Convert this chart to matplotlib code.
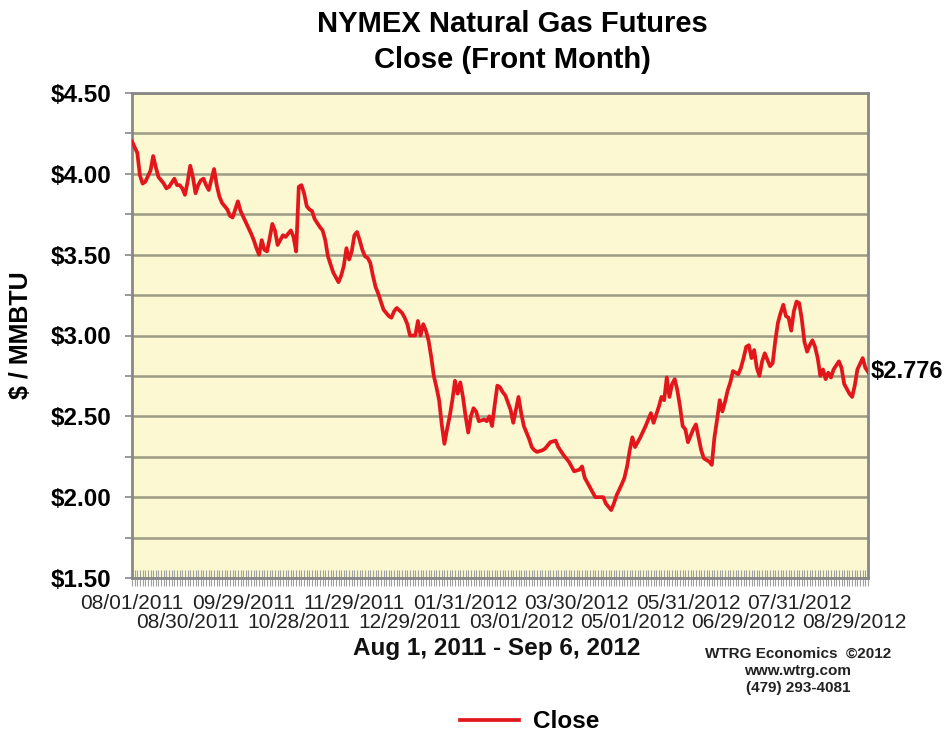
import numpy as np
import matplotlib.pyplot as plt
from matplotlib.lines import Line2D
import matplotlib.transforms as mtransforms

# trading-day number (0 = 08/01/2011) and front-month close
day = [0, 2, 3, 4, 5, 7, 8, 9, 10, 12, 13, 14, 16, 17, 18, 19, 20, 21, 22, 23,
       24, 25, 26, 27, 28, 29, 31, 32, 33, 34, 36, 37, 38, 39, 40, 41, 43, 45, 46, 47,
       48, 49, 50, 51, 52, 53, 54, 55, 57, 58, 60, 61, 62, 63, 64, 65, 66, 67, 68, 69,
       71, 72, 73, 74, 76, 77, 78, 79, 80, 81, 82, 83, 84, 85, 86, 87, 88, 89, 90, 91,
       92, 93, 95, 97, 98, 99, 100, 102, 103, 104, 105, 107, 108, 109, 110, 111, 112, 113, 114, 115,
       116, 117, 118, 119, 120, 121, 122, 123, 124, 125, 126, 127, 128, 129, 130, 131, 133, 134, 135, 136,
       137, 138, 139, 140, 141, 143, 144, 145, 146, 147, 148, 150, 151, 152, 153, 155, 156, 158, 160, 161,
       163, 165, 167, 169, 170, 171, 173, 175, 177, 178, 179, 181, 182, 183, 185, 186, 187, 188, 189, 190,
       191, 192, 194, 195, 196, 197, 199, 200, 201, 202, 203, 204, 205, 206, 207, 208, 209, 210, 212, 213,
       214, 215, 216, 218, 219, 220, 221, 222, 223, 224, 225, 226, 227, 229, 230, 231, 232, 233, 234, 235,
       236, 237, 238, 239, 240, 241, 242, 243, 244, 245, 246, 247, 248, 249, 250, 251, 252, 253, 254, 255,
       256, 257, 258, 259, 260, 261, 262, 263, 264, 265, 267, 268, 269, 271, 272, 273, 274, 276, 277, 278]
close = [4.20, 4.13, 3.99, 3.94, 3.95, 4.02, 4.11, 4.04, 3.98, 3.94, 3.91, 3.92, 3.97, 3.93, 3.93, 3.91, 3.87, 3.95, 4.05, 3.98,
         3.88, 3.93, 3.96, 3.97, 3.93, 3.90, 4.03, 3.93, 3.86, 3.82, 3.78, 3.74, 3.73, 3.78, 3.83, 3.77, 3.70, 3.63, 3.59, 3.54,
         3.50, 3.59, 3.53, 3.52, 3.60, 3.69, 3.65, 3.56, 3.62, 3.61, 3.65, 3.61, 3.52, 3.92, 3.93, 3.88, 3.80, 3.78, 3.77, 3.72,
         3.67, 3.65, 3.59, 3.49, 3.39, 3.36, 3.33, 3.37, 3.43, 3.54, 3.47, 3.52, 3.62, 3.64, 3.59, 3.53, 3.49, 3.48, 3.45, 3.37,
         3.30, 3.26, 3.16, 3.12, 3.11, 3.15, 3.17, 3.14, 3.11, 3.07, 3.00, 3.00, 3.09, 3.00, 3.07, 3.03, 2.97, 2.87, 2.75, 2.68,
         2.60, 2.45, 2.33, 2.42, 2.50, 2.60, 2.72, 2.64, 2.71, 2.62, 2.50, 2.40, 2.50, 2.55, 2.53, 2.47, 2.48, 2.47, 2.50, 2.44,
         2.57, 2.69, 2.68, 2.65, 2.63, 2.54, 2.46, 2.54, 2.62, 2.52, 2.44, 2.36, 2.31, 2.29, 2.28, 2.29, 2.30, 2.34, 2.35, 2.31,
         2.26, 2.22, 2.16, 2.17, 2.19, 2.12, 2.06, 2.00, 2.00, 2.00, 1.96, 1.92, 1.96, 2.01, 2.08, 2.12, 2.19, 2.29, 2.37, 2.31,
         2.34, 2.37, 2.44, 2.48, 2.52, 2.46, 2.56, 2.62, 2.60, 2.74, 2.62, 2.70, 2.73, 2.66, 2.56, 2.44, 2.42, 2.34, 2.42, 2.45,
         2.37, 2.29, 2.24, 2.22, 2.20, 2.37, 2.48, 2.60, 2.53, 2.59, 2.66, 2.71, 2.78, 2.76, 2.80, 2.86, 2.93, 2.94, 2.86, 2.91,
         2.80, 2.75, 2.84, 2.89, 2.85, 2.81, 2.83, 2.97, 3.08, 3.14, 3.19, 3.12, 3.11, 3.03, 3.15, 3.21, 3.20, 3.10, 2.96, 2.90,
         2.94, 2.97, 2.93, 2.86, 2.75, 2.79, 2.73, 2.77, 2.74, 2.79, 2.84, 2.80, 2.70, 2.64, 2.62, 2.69, 2.79, 2.86, 2.80, 2.776]

n_days = 279
tick_days = [0, 21, 42, 63, 84, 105, 126, 147, 168, 189, 210, 231, 252, 273]
tick_labels = ['08/01/2011', '08/30/2011', '09/29/2011', '10/28/2011', '11/29/2011',
               '12/29/2011', '01/31/2012', '03/01/2012', '03/30/2012', '05/01/2012',
               '05/31/2012', '06/29/2012', '07/31/2012', '08/29/2012']
last_close = 2.776

plt.rcParams['font.family'] = ['Liberation Sans', 'DejaVu Sans']

fig = plt.figure(figsize=(9.52, 7.37), dpi=100)
ax = fig.add_axes([132/952, 1 - 578/737, 736/952, 485/737])
ax.set_facecolor('#fbf8d2')

ax.plot(day, close, color='#e3161c', lw=2.7, solid_joinstyle='round', zorder=3)

ax.set_ylim(1.5, 4.5)
ax.set_xlim(0, n_days - 1)
yt = np.arange(1.5, 4.51, 0.25)
ax.set_yticks(yt)
ax.set_yticklabels(['$%.2f' % v if i % 2 == 0 else '' for i, v in enumerate(yt)],
                   fontsize=17.5, fontweight='bold')
ax.grid(axis='y', color='#9c9c84', lw=1.8)
ax.tick_params(axis='y', length=5, color='#888888', width=1.2, pad=10)

# date labels on two staggered rows
ax.set_xticks(tick_days)
ax.set_xticklabels([lab if i % 2 == 0 else '' for i, lab in enumerate(tick_labels)],
                   fontsize=15, color='#222222')
ax.set_xticks(range(n_days), minor=True)
ax.tick_params(axis='x', which='both', direction='inout', length=11, color='#a0a0a0', width=0.8, pad=6)
xtrans = mtransforms.blended_transform_factory(ax.transData, ax.transAxes)
for i, (d, lab) in enumerate(zip(tick_days, tick_labels)):
    if i % 2 == 1:
        ax.annotate(lab, (d, 0), xycoords=xtrans, xytext=(0, -45), textcoords='offset pixels',
                    ha='center', va='center', fontsize=15, color='#222222', annotation_clip=False)

for s in ax.spines.values():
    s.set_color('#888888')
    s.set_linewidth(2)

trans = mtransforms.blended_transform_factory(ax.transAxes, ax.transData)
ax.text(1.003, last_close, '$%.3f' % last_close, transform=trans, fontsize=17,
        fontweight='bold', va='center', ha='left')

fig.text(0.538, 1 - 42/737, 'NYMEX Natural Gas Futures\nClose (Front Month)', ha='center',
         va='center', fontsize=21, fontweight='bold', linespacing=1.4)
fig.text(0.022, 1 - 335/737, '$ / MMBTU', rotation=90, ha='center', va='center',
         fontsize=18, fontweight='bold')
fig.text(497/952, 1 - 649/737, 'Aug 1, 2011 - Sep 6, 2012', ha='center', va='center',
         fontsize=17.5, fontweight='bold', color='#111111')
fig.text(798/952, 1 - 671/737, 'WTRG Economics  \u00a92012\nwww.wtrg.com\n(479) 293-4081',
         ha='center', va='center', fontsize=11, fontweight='bold', color='#222222', linespacing=1.3)

handle = Line2D([], [], color='#e3161c', lw=2.7)
fig.legend(handles=[handle], labels=['Close'], loc='center', bbox_to_anchor=(530/952, 1 - 722/737),
           frameon=False, handlelength=2.4, handletextpad=0.6,
           prop={'size': 17.5, 'weight': 'bold'})

fig.savefig('out.png', dpi=100, facecolor='white')
